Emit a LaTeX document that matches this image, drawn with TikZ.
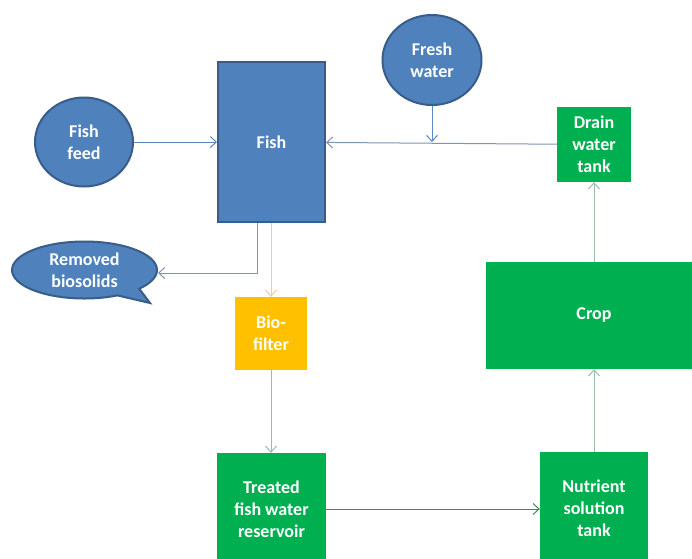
\documentclass[tikz,border=0pt]{standalone}
\usepackage{fontspec}
\setmainfont{Carlito}
\usetikzlibrary{arrows.meta,shapes.geometric,shapes.callouts,calc}
\definecolor{fblue}{HTML}{4F81BD}
\definecolor{fbord}{HTML}{385D8A}
\definecolor{fgreen}{HTML}{00B050}
\definecolor{forange}{HTML}{FFC000}
\definecolor{lblue}{HTML}{5A88C2}
\definecolor{lgray}{HTML}{7E94B0}
\definecolor{lgreen}{HTML}{98BFA6}
\definecolor{dgreen}{HTML}{3C8C5A}
\definecolor{lorange}{HTML}{F9CC80}
\begin{document}
\begin{tikzpicture}[x=1pt,y=-1pt,
  lbl/.style={font=\fontsize{18}{22}\selectfont\bfseries, text=white, align=center, inner sep=0pt},
  bluebox/.style={lbl, fill=fblue, draw=fbord, line width=2pt},
  greenbox/.style={lbl, rectangle, fill=fgreen, draw=none},
  conn/.style={-{Straight Barb[length=6pt,width=11pt]}, line width=1pt}]
\clip (0,0) rectangle (692,558);
\fill[white] (0,0) rectangle (692,558);

\node[bluebox, rectangle, minimum width=107, minimum height=160] (fish) at (271.5,142) {Fish};
\node[bluebox, ellipse, minimum width=98, minimum height=89] (feed) at (84,142) {Fish\\feed};
\node[bluebox, ellipse, minimum width=99, minimum height=90] (fresh) at (432,60) {Fresh\\water};
\node[bluebox, ellipse callout, minimum width=145, minimum height=57, callout pointer arc=22,
      callout absolute pointer={(150,303)}] (removed) at (84.5,270) {Removed\\biosolids};
\node[greenbox, minimum width=74, minimum height=75] (drain) at (594,144.5) {Drain\\water\\tank};
\node[lbl, rectangle, fill=forange, minimum width=72, minimum height=73] (bio) at (271,333.5) {Bio-\\filter};
\node[greenbox, minimum width=109, minimum height=112] (treated) at (271.5,509) {Treated\\fish water\\reservoir};
\node[greenbox, minimum width=108, minimum height=112] (nutrient) at (594,508) {Nutrient\\solution\\tank};
\node[greenbox, minimum width=216, minimum height=107] (crop) at (594,315.5) {Crop};

\coordinate (join) at (fresh.south |- fish.east);
\draw[conn, lblue] (feed) -- (fish);
\draw[conn, lgray] (drain) -- (fish);
\draw[conn, lblue] (fresh) -- (join);
\draw[conn, lgray] ($(fish.south)+(-14.5,0)$) |- ($(removed.east)+(0,3)$);
\draw[conn, lorange] (fish.south -| bio.north) -- (bio.north);
\draw[conn, lgreen] (bio.south) -- (bio.south |- treated.north);
\draw[conn, dgreen] (treated.east) -- (treated.east -| nutrient.west);
\draw[conn, lgreen] (nutrient) -- (crop);
\draw[conn, lgreen] (crop) -- (drain);
\end{tikzpicture}
\end{document}
